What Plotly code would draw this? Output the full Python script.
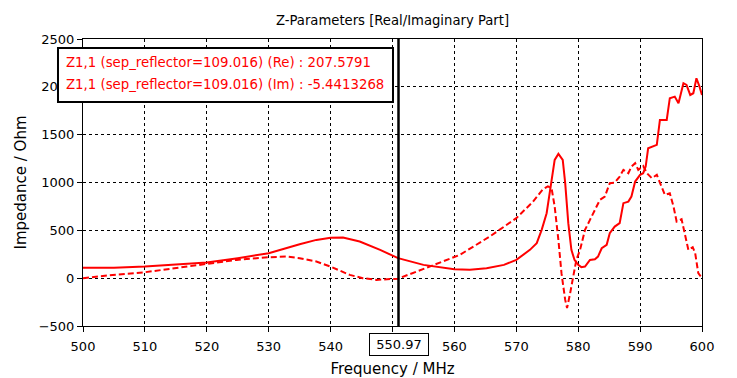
import plotly.graph_objects as go

# ---- data ----
re_freq = [500, 505, 510, 515, 520, 525, 530, 535, 537.7, 540, 542, 544.7, 548, 550.9, 555, 560, 562.5,
           565.2, 568, 570, 572.2, 573.3, 574.1, 574.9, 575.7, 576.2, 576.8, 577.5, 577.9, 578.4, 578.9,
           579.4, 580, 580.5, 581.1, 581.9, 582.7, 583.2, 583.8, 584.6, 585.1, 585.9, 586.7, 587.3, 588.1,
           588.6, 589.2, 590, 590.5, 590.9, 591.3, 592.7, 593.2, 594.3, 594.8, 595.6, 596.2, 597, 597.5,
           598.1, 598.6, 599.1, 599.6, 600]
re_vals = [108, 110, 121, 139, 163, 209, 261, 355, 400, 422, 425, 383, 296, 209, 139, 94, 88,
           104, 139, 191, 296, 366, 505, 679, 993, 1236, 1299, 1236, 993, 575, 296,
           191, 139, 115, 121, 191, 198, 226, 313, 348, 470, 539, 575, 784, 800,
           853, 1010, 1080, 1097, 1166, 1358, 1393, 1654, 1654, 1881, 1898, 1829, 2038, 2020,
           1915, 1933, 2090, 2002, 1915]

im_freq = [500, 504.8, 510, 515.1, 520, 524.8, 530, 532.9, 535, 537.7, 540, 543.1, 545.2, 547.4, 550.9,
           553.3, 556, 560.9, 565.7, 570, 572.7, 574.3, 575.1, 575.7, 576.2, 576.8, 577.3, 577.9, 578.2,
           578.7, 579.2, 579.7, 580.3, 581.1, 581.9, 582.7, 583.5, 584.3, 585.1, 585.9, 586.7, 587.3,
           588.1, 588.6, 589.2, 589.7, 590.5, 591.1, 591.9, 592.7, 593.5, 594, 594.8, 595.4, 595.9,
           596.7, 597.2, 597.8, 598.5, 598.9, 599.4, 600]
im_vals = [0, 34, 62, 104, 150, 191, 219, 226, 209, 174, 121, 34, 0, -18, -5,
           52, 121, 244, 435, 627, 800, 930, 960, 940, 748, 400, 52, -227, -313,
           -157, 17, 191, 296, 505, 609, 714, 818, 853, 993, 999, 1062, 1132,
           1097, 1166, 1202, 1132, 1173, 1097, 1045, 1080, 957, 871, 888, 748, 592,
           616, 470, 296, 324, 261, 52, 0]

x_ticks = [500, 510, 520, 530, 540, 550, 560, 570, 580, 590, 600]
x_ticktext = ["500", "510", "520", "530", "540", "", "560", "570", "580", "590", "600"]
y_ticks = [-500, 0, 500, 1000, 1500, 2000, 2500]

marker_freq = 550.97
marker_label = "550.97"
legend_lines = ["Z1,1 (sep_reflector=109.016) (Re) : 207.5791",
                "Z1,1 (sep_reflector=109.016) (Im) : -5.4413268"]

RED = "#ff0000"
FONT = "DejaVu Sans"

fig = go.Figure()
fig.add_trace(go.Scatter(x=re_freq, y=re_vals, mode="lines",
                         line=dict(color=RED, width=2), name="Re"))
fig.add_trace(go.Scatter(x=im_freq, y=im_vals, mode="lines",
                         line=dict(color=RED, width=2, dash="6px,3px"), name="Im"))

axis_common = dict(showline=True, linecolor="black", linewidth=1, mirror=True,
                   ticks="outside", ticklen=5, tickcolor="black", automargin=False,
                   showgrid=True, gridcolor="black", gridwidth=1, griddash="3px,3px",
                   zeroline=False, tickfont=dict(family=FONT, size=13, color="black"))

# page body has an 8px margin; the figure is sized so the page is 737x378
fig.update_layout(
    width=729, height=370,
    margin=dict(l=75, r=35, t=31, b=52),
    plot_bgcolor="white", paper_bgcolor="white",
    showlegend=False,
    font=dict(family=FONT, size=13, color="black"),
    title=dict(text="Z-Parameters [Real/Imaginary Part]", x=0.5, xref="paper", xanchor="center",
               y=1 - 12 / 370, yref="container", yanchor="middle",
               font=dict(family=FONT, size=13.2, color="black")),
    xaxis=dict(range=[500, 600], tickvals=x_ticks, ticktext=x_ticktext, ticklabelstandoff=3,
               title=dict(text="Frequency / MHz", standoff=17,
                          font=dict(family=FONT, size=15, color="black")),
               **axis_common),
    yaxis=dict(range=[-500, 2500], tickvals=y_ticks,
               title=dict(text="Impedance / Ohm", standoff=8,
                          font=dict(family=FONT, size=15, color="black")),
               **axis_common),
)

# marker line
fig.add_shape(type="line", xref="x", yref="paper", x0=marker_freq, x1=marker_freq, y0=0, y1=1,
              line=dict(color="black", width=2.5), layer="above")
fig.add_annotation(x=marker_freq, xref="x", y=-0.063, yref="paper", text=marker_label,
                   showarrow=False, xanchor="center", yanchor="middle",
                   bordercolor="black", borderwidth=1, borderpad=2, bgcolor="white",
                   width=54, height=17,
                   font=dict(family=FONT, size=13, color="black"))

# legend box
fig.add_shape(type="rect", xref="paper", yref="paper", x0=-0.0404, x1=0.5008, y0=0.7805, y1=0.9686,
              line=dict(color="black", width=2), fillcolor="white", layer="above")
for txt, yy in zip(legend_lines, [0.9174, 0.8421]):
    fig.add_annotation(x=-0.0307, xref="paper", y=yy, yref="paper", text=txt, showarrow=False,
                       xanchor="left", yanchor="middle",
                       font=dict(family=FONT, size=13.3, color=RED))

fig.write_html("out.html")
